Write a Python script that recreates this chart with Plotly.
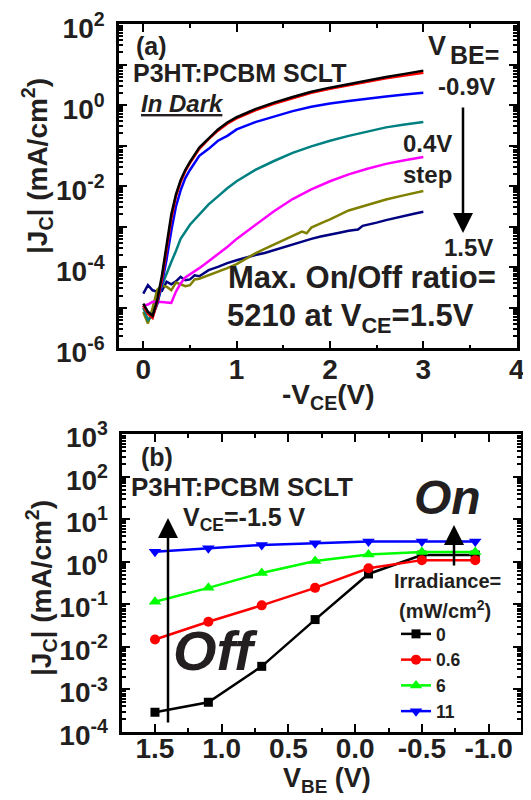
import plotly.graph_objects as go

# ---------------- Panel (a): dark J_C vs -V_CE for several V_BE ----------------
vce_a = [0.0, 0.05, 0.1, 0.15, 0.2, 0.25, 0.3, 0.35, 0.4, 0.45, 0.5, 0.6, 0.7, 0.8, 0.9,
         1.0, 1.2, 1.4, 1.6, 1.8, 2.0, 2.2, 2.4, 2.6, 2.8, 3.0]
j_vbe_m09 = [1.26e-5, 7.9e-6, 6.3e-6, 1.58e-5, 6.3e-5, 3.16e-4, 2.0e-3, 6.3e-3, 0.0141, 0.0251,
             0.0398, 0.089, 0.151, 0.251, 0.372, 0.501, 0.794, 1.15, 1.58, 2.14, 2.69, 3.31,
             4.07, 4.9, 5.89, 7.08]
j_vbe_m05 = [1.12e-5, 7.1e-6, 5.6e-6, 1.41e-5, 5.0e-5, 2.51e-4, 1.58e-3, 5.6e-3, 0.0126, 0.0234,
             0.0372, 0.0832, 0.145, 0.234, 0.347, 0.468, 0.741, 1.07, 1.48, 2.0, 2.51, 3.09,
             3.8, 4.57, 5.37, 6.31]
j_vbe_m01 = [1.12e-5, 7.9e-6, 6.3e-6, 1.26e-5, 3.98e-5, 1.58e-4, 7.9e-4, 3.16e-3, 7.9e-3, 0.0158,
             0.0251, 0.0562, 0.0832, 0.132, 0.174, 0.251, 0.38, 0.525, 0.708, 0.912, 1.10, 1.26,
             1.45, 1.62, 1.82, 2.0]

vce_a2 = [0.0, 0.05, 0.1, 0.15, 0.2, 0.25, 0.3, 0.35, 0.4, 0.5, 0.6, 0.7, 0.8, 0.9, 1.0,
          1.2, 1.4, 1.6, 1.8, 2.0, 2.2, 2.4, 2.6, 2.8, 3.0]
j_vbe_p03 = [1.0e-5, 5.0e-6, 6.3e-6, 1.26e-5, 3.55e-5, 7.1e-5, 1.35e-4, 2.51e-4, 5.0e-4, 1.12e-3,
             2.0e-3, 3.55e-3, 5.6e-3, 8.9e-3, 0.0132, 0.0251, 0.0417, 0.0661, 0.0955, 0.132,
             0.174, 0.224, 0.282, 0.331, 0.38]

j_vbe_p07 = [1.12e-5, 1.2e-5, 1.41e-5, 1.41e-5, 1.38e-5, 1.35e-5, 1.32e-5, 2.51e-5, 3.98e-5,
             5.6e-5, 6.6e-5, 9.5e-5, 1.41e-4, 2.09e-4, 3.16e-4, 5.0e-4, 1.12e-3, 2.4e-3, 4.8e-3,
             8.3e-3, 0.0132, 0.0195, 0.0269, 0.0355, 0.0437, 0.0525]

vce_a3 = [0.0, 0.05, 0.1, 0.15, 0.2, 0.25, 0.3, 0.35, 0.4, 0.45, 0.5, 0.55, 0.6, 0.7, 0.8, 0.9,
          1.0, 1.1, 1.2, 1.3, 1.4, 1.5, 1.6, 1.7, 1.75, 1.8, 1.9, 2.0, 2.2, 2.4, 2.6, 2.8, 3.0]
j_vbe_p11 = [7.9e-6, 4.1e-6, 1.0e-5, 2.8e-5, 3.5e-5, 3.3e-5, 2.7e-5, 4.2e-5, 3.8e-5, 3.4e-5,
             3.6e-5, 5.0e-5, 5.2e-5, 6.3e-5, 7.6e-5, 9.5e-5, 1.2e-4, 1.66e-4, 2.19e-4, 2.82e-4,
             3.63e-4, 4.57e-4, 5.75e-4, 7.6e-4, 6.9e-4, 9.5e-4, 1.2e-3, 1.51e-3, 2.51e-3,
             3.47e-3, 4.68e-3, 6.0e-3, 7.6e-3]

vce_a4 = [0.0, 0.05, 0.1, 0.15, 0.2, 0.25, 0.3, 0.35, 0.4, 0.45, 0.5, 0.55, 0.6, 0.7, 0.8, 0.9,
          1.0, 1.1, 1.2, 1.3, 1.4, 1.5, 1.6, 1.7, 1.8, 1.9, 2.0, 2.1, 2.2, 2.3, 2.35, 2.4, 2.5,
          2.6, 2.7, 2.8, 2.9, 3.0]
j_vbe_p15 = [2.24e-5, 3.6e-5, 2.7e-5, 2.5e-5, 2.6e-5, 4.4e-5, 3.8e-5, 4.5e-5, 5.8e-5, 4.8e-5,
             5.0e-5, 6.3e-5, 6.0e-5, 8.5e-5, 1.02e-4, 1.26e-4, 1.48e-4, 1.74e-4, 2.0e-4, 2.24e-4,
             2.63e-4, 3.16e-4, 3.63e-4, 4.17e-4, 5.0e-4, 5.75e-4, 6.3e-4, 7.1e-4, 7.9e-4, 8.5e-4,
             1.05e-3, 1.1e-3, 1.26e-3, 1.45e-3, 1.66e-3, 1.9e-3, 2.09e-3, 2.34e-3]

# ---------------- Panel (b): J_C vs V_BE for several irradiances ----------------
vbe_b = [1.5, 1.1, 0.7, 0.3, -0.1, -0.5, -0.9]
j_irr_0 = [2.9e-4, 5.0e-4, 3.5e-3, 0.044, 0.52, 1.45, 1.45]
j_irr_06 = [0.015, 0.039, 0.095, 0.245, 0.71, 1.1, 1.1]
j_irr_6 = [0.115, 0.245, 0.55, 1.05, 1.5, 1.7, 1.7]
j_irr_11 = [1.74, 2.1, 2.5, 2.75, 3.0, 3.0, 3.0]
irr_names = ["0", "0.6", "6", "11"]

xticks_a = [0, 1, 2, 3, 4]
yticks_a_exp = [-6, -5, -4, -3, -2, -1, 0, 1, 2]
xticks_b = [1.5, 1.0, 0.5, 0.0, -0.5, -1.0]
xtick_labels_b = ["1.5", "1.0", "0.5", "0.0", "-0.5", "-1.0"]
yticks_b_exp = [-4, -3, -2, -1, 0, 1, 2, 3]

FONT = "Liberation Sans, Arial, sans-serif"
TXT = "#231f20"

# page geometry (pixels); the page body adds an 8 px offset around the figure
OFF = 8
W, H = 531 - OFF, 800 - OFF
ML, MR, MT, MB = 119 - OFF, 10, 24 - OFF, 76 - OFF
PW, PH = W - ML - MR, H - MT - MB


def px(x):
    """page pixel x -> paper fraction"""
    return (x - OFF - ML) / PW


def py(y):
    """page pixel y -> paper fraction"""
    return 1 - (y - OFF - MT) / PH


fig = go.Figure()

curves_a = [
    (vce_a, j_vbe_m09, "#000000", "V_BE=-0.9V"),
    (vce_a, j_vbe_m05, "#ff0000", "V_BE=-0.5V"),
    (vce_a, j_vbe_m01, "#0000ff", "V_BE=-0.1V"),
    (vce_a2, j_vbe_p03, "#008080", "V_BE=0.3V"),
    (vce_a, j_vbe_p07, "#ff00ff", "V_BE=0.7V"),
    (vce_a3, j_vbe_p11, "#808000", "V_BE=1.1V"),
    (vce_a4, j_vbe_p15, "#000080", "V_BE=1.5V"),
]
for xs, ys, col, nm in reversed(curves_a):
    fig.add_trace(go.Scatter(x=xs, y=ys, mode="lines", name=nm, showlegend=False,
                             line=dict(color=col, width=2.5), xaxis="x", yaxis="y"))

series_b = [
    (j_irr_0, "#000000", "square", 9),
    (j_irr_06, "#ff0000", "circle", 10),
    (j_irr_6, "#00ff00", "triangle-up", 11),
    (j_irr_11, "#0000ff", "triangle-down", 11),
]
for (ys, col, sym, sz), nm in zip(series_b, irr_names):
    fig.add_trace(go.Scatter(x=vbe_b, y=ys, mode="lines+markers", name=nm,
                             line=dict(color=col, width=2.5),
                             marker=dict(symbol=sym, size=sz, color=col),
                             xaxis="x2", yaxis="y2"))

tickfont = dict(family=FONT, size=28, color=TXT, weight="bold")
axis_common = dict(showline=True, linewidth=2.5, linecolor="black", mirror="allticks",
                   ticks="inside", ticklen=8, tickwidth=2, tickcolor="black",
                   showgrid=False, zeroline=False, tickfont=tickfont,
                   ticklabeloverflow="allow")


def sup_label(e):
    return "10<sup>%d</sup>" % e


fig.update_layout(
    width=W, height=H,
    margin=dict(l=ML, r=MR, t=MT, b=MB, autoexpand=False),
    paper_bgcolor="white", plot_bgcolor="white",
    font=dict(family=FONT, color=TXT),
    xaxis=dict(domain=[0, px(516.7)], range=[-0.26, 4.0], anchor="y",
               tickmode="array", tickvals=xticks_a, ticktext=[str(v) for v in xticks_a],
               ticklabelstandoff=-6,
               minor=dict(ticks="inside", ticklen=4, tickwidth=2, dtick=0.5, tick0=0),
               **axis_common),
    yaxis=dict(domain=[py(348.3), 1], type="log", range=[-6, 2], anchor="x",
               tickmode="array", tickvals=[10.0 ** e for e in yticks_a_exp],
               ticktext=[sup_label(e) if e % 2 == 0 else "" for e in yticks_a_exp],
               ticklabelstandoff=6, ticklabelshift=4,
               minor=dict(ticks="inside", ticklen=4, tickwidth=1.5, dtick="D1"),
               **axis_common),
    xaxis2=dict(domain=[px(122.3), 1], range=[1.745, -1.243], anchor="y2",
                tickmode="array", tickvals=xticks_b, ticktext=xtick_labels_b,
                ticklabelstandoff=-10,
                minor=dict(ticks="inside", ticklen=4, tickwidth=2, dtick=0.25, tick0=0),
                **axis_common),
    yaxis2=dict(domain=[0, py(434.3)], type="log", range=[-4, 3], anchor="x2",
                tickmode="array", tickvals=[10.0 ** e for e in yticks_b_exp],
                ticktext=[sup_label(e) for e in yticks_b_exp],
                ticklabelstandoff=6, ticklabelshift=3,
                minor=dict(ticks="inside", ticklen=4, tickwidth=1.5, dtick="D1"),
                **axis_common),
    legend=dict(x=px(396), y=py(616), xanchor="left", yanchor="top",
                bgcolor="rgba(0,0,0,0)", borderwidth=0,
                font=dict(family=FONT, size=17.5, color=TXT, weight="bold"),
                itemwidth=30, tracegroupgap=0),
    showlegend=True,
)


def text(s, x, y, size, angle=0, italic=False):
    s2 = "<b>%s</b>" % s
    if italic:
        s2 = "<i>%s</i>" % s2
    fig.add_annotation(text=s2, x=px(x), y=py(y), xref="paper", yref="paper",
                       showarrow=False, textangle=angle, xanchor="center", yanchor="middle",
                       font=dict(family=FONT, size=size, color=TXT))


def arrow(x, y_head, y_tail):
    fig.add_annotation(text="", x=px(x), y=py(y_head), xref="paper", yref="paper",
                       ax=0, ay=y_tail - y_head, axref="pixel", ayref="pixel",
                       showarrow=True, arrowhead=2, arrowsize=1.6, arrowwidth=2.5,
                       arrowcolor="black", standoff=0, startstandoff=0)


# axis titles
text("|J<sub>C</sub>| (mA/cm<sup>2</sup>)", 37, 166, 28, angle=-90)
text("-V<sub>CE</sub>(V)", 328, 396, 28)
text("|J<sub>C</sub>| (mA/cm<sup>2</sup>)", 41, 588, 28, angle=-90)
text("V<sub>BE</sub> (V)", 327, 780, 27)

# panel (a) labels
text("(a)", 151, 46, 25)
text("P3HT:PCBM SCLT", 239, 73, 25)
text("<u>In Dark</u>", 182, 103, 24, italic=True)
text("V", 437, 46, 27)
text("BE=", 474, 55, 25)
text("-0.9V", 466, 86, 24)
text("0.4V", 427, 143, 24)
text("step", 427, 174, 24)
text("1.5V", 468, 247, 24)
text("Max. On/Off ratio=", 362, 277, 31)
text("5210 at V<sub>CE</sub>=1.5V", 350, 318, 31)
arrow(463, 233, 106)

# panel (b) labels
text("(b)", 157, 457, 25)
text("P3HT:PCBM SCLT", 242, 487, 26)
text("V<sub>CE</sub>=-1.5 V", 244, 519, 25)
text("On", 447, 497, 48, italic=True)
text("Off", 215, 650, 56, italic=True)
text("Irradiance=", 447, 581, 20)
text("(mW/cm<sup>2</sup>)", 445, 609, 20)
arrow(168, 518, 724)
arrow(454, 525, 567)

fig.write_html("out.html")
